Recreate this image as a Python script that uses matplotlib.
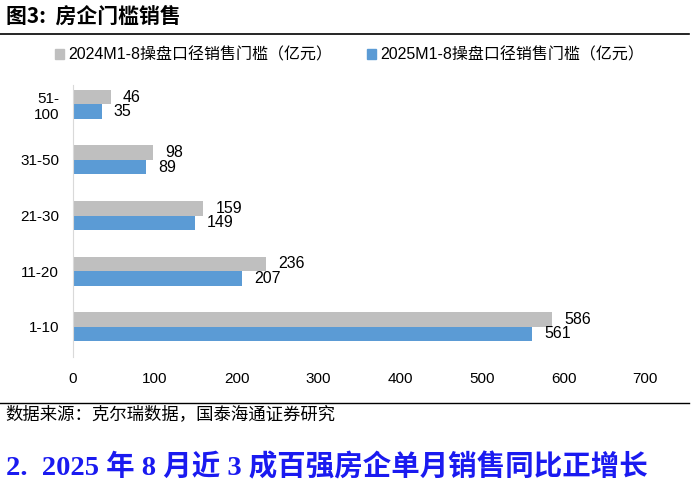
import matplotlib
matplotlib.use("Agg")
import matplotlib.pyplot as plt
from matplotlib.patches import Patch
import numpy as np

plt.rcParams['font.family'] = ['Liberation Sans', 'Noto Sans CJK SC', 'DejaVu Sans']

categories = ["1-10", "11-20", "21-30", "31-50", "51-\n100"]
sales_2024 = [586, 236, 159, 98, 46]
sales_2025 = [561, 207, 149, 89, 35]
label_2024 = "2024M1-8操盘口径销售门槛（亿元）"
label_2025 = "2025M1-8操盘口径销售门槛（亿元）"
color_2024 = "#BFBFBF"
color_2025 = "#5B9BD5"

fig = plt.figure(figsize=(6.92, 4.88), dpi=100)
ax = fig.add_axes([0.1055, 0.268, 0.827, 0.558])

y = np.arange(len(categories))
h = 0.26
ax.barh(y + h / 2, sales_2024, height=h, color=color_2024)
ax.barh(y - h / 2, sales_2025, height=h, color=color_2025)

for yi, v in zip(y, sales_2024):
    ax.text(v + 15, yi + h / 2, str(v), va="center", ha="left", fontsize=11.5)
for yi, v in zip(y, sales_2025):
    ax.text(v + 15, yi - h / 2, str(v), va="center", ha="left", fontsize=11.5)

ax.set_xlim(0, 700)
ax.set_ylim(-0.55, 4.35)
ax.set_xticks(range(0, 701, 100))
ax.set_yticks(y)
ax.set_yticklabels(categories, ha="right", multialignment="right")
ax.tick_params(axis="both", length=0, labelsize=11)
ax.tick_params(axis="y", pad=10)
ax.tick_params(axis="x", pad=11)
for s in ["top", "right", "bottom"]:
    ax.spines[s].set_visible(False)
ax.spines["left"].set_color("#D9D9D9")

handles = [Patch(color=color_2024), Patch(color=color_2025)]
fig.legend(handles, [label_2024, label_2025], loc="center", ncol=2,
           bbox_to_anchor=(0.505, 0.887), frameon=False, fontsize=11.5,
           handlelength=0.55, handleheight=0.55, handletextpad=0.25,
           columnspacing=2.2)

# title and rules
fig.text(0.008, 0.967, "图3:  房企门槛销售", fontsize=15, fontweight="bold",
         va="center", ha="left", family=['Noto Sans CJK SC', 'DejaVu Sans'])
fig.add_artist(plt.Line2D([0.0, 0.995], [0.930, 0.930], color="black", lw=1.2))
fig.add_artist(plt.Line2D([0.0, 0.995], [0.175, 0.175], color="black", lw=1.0))
fig.text(0.008, 0.151, "数据来源：克尔瑞数据，国泰海通证券研究", fontsize=12.5,
         va="center", ha="left", family=['Noto Sans CJK SC', 'DejaVu Sans'])
fig.text(0.008, 0.043, "2.  2025 年 8 月近 3 成百强房企单月销售同比正增长",
         fontsize=20.5, fontweight="bold", color="#1A1AF0", va="center", ha="left",
         family=['Liberation Serif', 'Noto Sans CJK SC'])

fig.savefig("out.png", dpi=100)
